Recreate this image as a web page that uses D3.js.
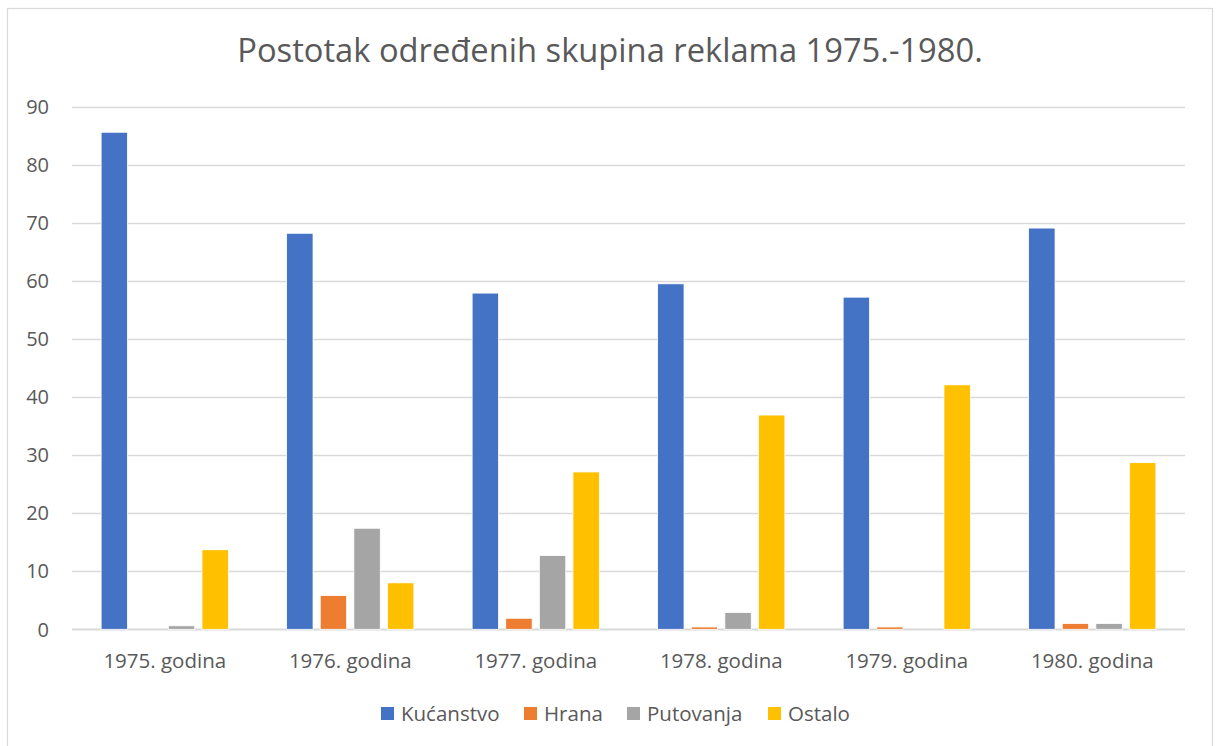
<!DOCTYPE html>
<html><head><meta charset="utf-8">
<script src="https://cdn.jsdelivr.net/npm/d3@7"></script>
<style>body{margin:0;background:#fff}svg{display:block}text{font-family:"Open Sans",sans-serif;fill:#595959}</style>
</head><body><svg id="c" width="1220" height="746"></svg>
<script>
const categories = ["1975. godina","1976. godina","1977. godina","1978. godina","1979. godina","1980. godina"];
const seriesNames = ["Kućanstvo","Hrana","Putovanja","Ostalo"];
const kucanstvo = [85.6, 68.2, 57.9, 59.5, 57.2, 69.1];
const hrana     = [0, 5.8, 1.9, 0.4, 0.4, 1.0];
const putovanja = [0.6, 17.4, 12.7, 2.9, 0, 1.0];
const ostalo    = [13.7, 8.0, 27.1, 36.9, 42.1, 28.7];
const yTicks = [0,10,20,30,40,50,60,70,80,90];
const colors = ["#4472C4","#ED7D31","#A5A5A5","#FFC000"];
const title = "Postotak određenih skupina reklama 1975.-1980.";

const values = [kucanstvo, hrana, putovanja, ostalo];
const svg = d3.select("#c");
svg.append("rect").attr("x",7.5).attr("y",8.5).attr("width",1205).attr("height",760)
  .attr("fill","#fff").attr("stroke","#d9d9d9").attr("stroke-width",1.2);

const L=72, R=1185, T=106.7, B=629.3;
const y = d3.scaleLinear().domain([0,90]).range([B,T]);
const x0 = d3.scaleBand().domain(categories).range([L,R]).padding(0);
const bw = x0.bandwidth();
const x1 = d3.scaleBand().domain(seriesNames).range([bw*0.157, bw*(1-0.157)]).paddingInner(0.214).paddingOuter(0);

svg.append("text").attr("x",610).attr("y",62).attr("text-anchor","middle")
  .attr("font-size",32.7).text(title);

const gy = svg.append("g");
gy.selectAll("line").data(yTicks).join("line")
  .attr("x1",L).attr("x2",R).attr("y1",d=>Math.round(y(d))+0.5).attr("y2",d=>Math.round(y(d))+0.5)
  .attr("stroke","#d9d9d9").attr("stroke-width",d=>d===0?1.8:1.4);
gy.selectAll("text").data(yTicks).join("text")
  .attr("x",49).attr("y",d=>y(d)).attr("dy","0.36em").attr("text-anchor","end")
  .attr("font-size",20).text(d=>d);

const groups = svg.append("g").selectAll("g").data(categories).join("g")
  .attr("transform",d=>`translate(${x0(d)},0)`);
groups.selectAll("rect").data((d,ci)=>seriesNames.map((s,si)=>({s,si,v:values[si][ci]})))
  .join("rect")
  .attr("x",d=>x1(d.s)).attr("width",x1.bandwidth())
  .attr("y",d=>y(d.v)).attr("height",d=>Math.max(0,B-y(d.v)))
  .attr("fill",d=>colors[d.si]).attr("stroke","#fff").attr("stroke-width",d=>d.v>0?0.8:0);

svg.append("g").selectAll("text").data(categories).join("text")
  .attr("x",d=>x0(d)+bw/2).attr("y",668).attr("text-anchor","middle")
  .attr("font-size",20.5).text(d=>d);

const legX = [381, 524, 627, 768];
const lg = svg.append("g").selectAll("g").data(seriesNames).join("g")
  .attr("transform",(d,i)=>`translate(${legX[i]},707)`);
lg.append("rect").attr("width",13).attr("height",13).attr("fill",(d,i)=>colors[i]);
lg.append("text").attr("x",20).attr("y",14).attr("font-size",20.5).text(d=>d);
</script></body></html>
